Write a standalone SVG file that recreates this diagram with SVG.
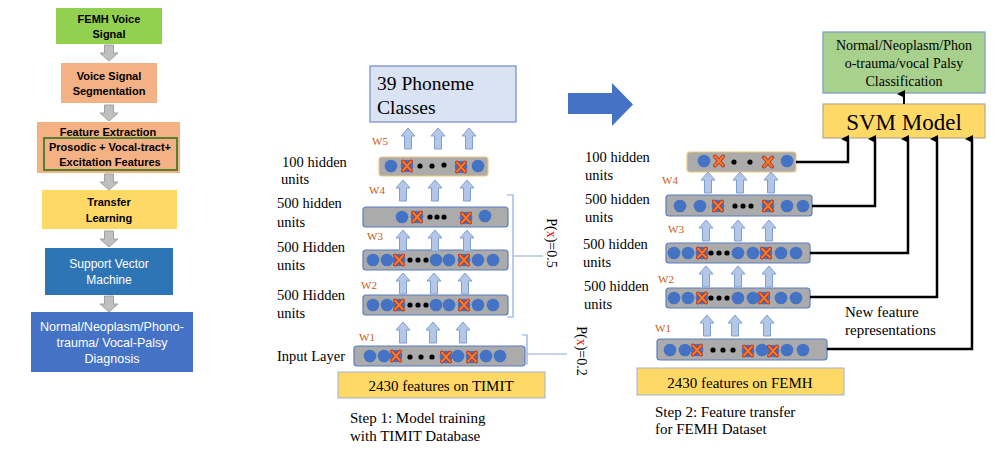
<svg xmlns="http://www.w3.org/2000/svg" xmlns:xlink="http://www.w3.org/1999/xlink" width="1000" height="458" viewBox="0 0 1000 458">
<style>
.fb{font-family:"Liberation Sans",Arial,sans-serif;font-weight:bold;font-size:11px;fill:#000;text-anchor:middle}
.fw{font-family:"Liberation Sans",Arial,sans-serif;font-size:12px;fill:#fff;text-anchor:middle}
.fd{font-family:"Liberation Sans",Arial,sans-serif;font-size:12.5px;fill:#fff;text-anchor:middle}
.sr{font-family:"Liberation Serif","Times New Roman",serif;font-size:14.5px;fill:#000}
.s15{font-family:"Liberation Serif","Times New Roman",serif;font-size:15px;fill:#000}
.s14{font-family:"Liberation Serif","Times New Roman",serif;font-size:14px;fill:#000;text-anchor:middle}
.big{font-family:"Liberation Serif","Times New Roman",serif;font-size:19.5px;fill:#000}
.svm{font-family:"Liberation Serif","Times New Roman",serif;font-size:23px;fill:#000;text-anchor:middle}
.w{font-family:"Liberation Serif","Times New Roman",serif;font-size:11px;fill:#C55A11}
.lay{fill:#ABABAB;stroke:#5B7EC0;stroke-width:1.2}
.layt{fill:#ABABAB;stroke:#F2C67E;stroke-width:1.2}
.conn{fill:none;stroke:#000;stroke-width:2.5}
.brk{fill:none;stroke:#8FAADC;stroke-width:1.2}
</style>
<defs>
<path id="ga" d="M-4.5,0 H4.5 V8 H9 L0,16 L-9,8 H-4.5 Z" fill="#BFBFBF" stroke="#A0A0A0" stroke-width="1"/>
<path id="ua" d="M-7,8 L0,0 L7,8 L3.5,8 L3.5,21 L-3.5,21 L-3.5,8 Z" fill="#B4C7E7" stroke="#7F9FD4" stroke-width="1"/>
<circle id="n" r="6.3" fill="#4472C4"/>
<circle id="d" r="2.6" fill="#000"/>
<g id="xo">
<path d="M-4,-4.5 L4,4.5 M4,-4.5 L-4,4.5" stroke="#C0301A" stroke-width="4" stroke-linecap="round"/>
<path d="M-4,-4.5 L4,4.5 M4,-4.5 L-4,4.5" stroke="#ED7D31" stroke-width="2" stroke-linecap="round"/>
</g>
<g id="x"><use xlink:href="#n"/><use xlink:href="#xo"/></g>
<marker id="ah" markerWidth="8" markerHeight="8" refX="4" refY="7" orient="auto-start-reverse" markerUnits="userSpaceOnUse" viewBox="0 0 8 8">
<path d="M0,8 L4,0 L8,8 Z" fill="#000"/>
</marker>
</defs>
<rect width="1000" height="458" fill="#fff"/>

<!-- Left flowchart -->
<g id="femh-signal"><rect x="56" y="8" width="106" height="36" fill="#92D050"/>
<text class="fb" x="109" y="23">FEMH Voice</text><text class="fb" x="109" y="38">Signal</text></g>
<g id="segmentation"><rect x="61" y="63" width="96" height="40" fill="#F4B183"/>
<text class="fb" x="109" y="80">Voice Signal</text><text class="fb" x="109" y="95">Segmentation</text></g>
<g id="feature-extraction"><rect x="37" y="122" width="143" height="51" fill="#F4B183"/>
<rect x="44" y="138" width="133" height="32" fill="none" stroke="#548235" stroke-width="2"/>
<text class="fb" x="108" y="136">Feature Extraction</text>
<text class="fb" x="110" y="151">Prosodic + Vocal-tract+</text>
<text class="fb" x="110" y="166">Excitation Features</text></g>
<g id="transfer-learning"><rect x="42" y="190" width="135" height="39" fill="#FFD966"/>
<text class="fb" x="109" y="206">Transfer</text><text class="fb" x="109" y="222">Learning</text></g>
<g id="svm-left"><rect x="45" y="248" width="128" height="47" fill="#2E75B6"/>
<text class="fw" x="109" y="268">Support Vector</text><text class="fw" x="109" y="284">Machine</text></g>
<g id="diagnosis"><rect x="31" y="312" width="162" height="60" fill="#4472C4"/>
<text class="fd" x="112" y="331">Normal/Neoplasm/Phono-</text>
<text class="fd" x="112" y="347">trauma/ Vocal-Palsy</text>
<text class="fd" x="112" y="363">Diagnosis</text></g>
<g id="left-arrows">
<use xlink:href="#ga" x="109" y="45"/>
<use xlink:href="#ga" x="109" y="105"/>
<use xlink:href="#ga" x="109" y="174"/>
<use xlink:href="#ga" x="109" y="231"/>
<use xlink:href="#ga" x="109" y="296"/>
</g>

<!-- Step 1 network -->
<g id="phoneme-classes"><rect x="370" y="66" width="146" height="56" fill="#DAE3F3" stroke="#6E8DC9" stroke-width="1.2"/>
<text class="big" x="377" y="90">39 Phoneme</text><text class="big" x="377" y="114">Classes</text></g>

<g id="s1-l5"><rect class="layt" x="379" y="157" width="109" height="19" rx="3"/>
<use xlink:href="#n" x="391" y="166"/><use xlink:href="#x" x="407" y="166"/>
<use xlink:href="#d" x="420" y="166"/><use xlink:href="#d" x="432" y="166"/><use xlink:href="#d" x="444" y="165"/>
<use xlink:href="#x" x="461" y="167"/><use xlink:href="#n" x="478" y="166"/></g>

<g id="s1-l4"><rect class="lay" x="363" y="207" width="145" height="20" rx="3"/>
<use xlink:href="#n" x="402" y="217"/><use xlink:href="#x" x="417" y="217"/>
<use xlink:href="#d" x="430" y="217"/><use xlink:href="#d" x="437" y="217"/><use xlink:href="#d" x="444" y="217"/>
<use xlink:href="#x" x="466" y="218"/><use xlink:href="#n" x="485" y="216"/></g>

<g id="s1-l3"><rect class="lay" x="363" y="250" width="145" height="20" rx="3"/>
<use xlink:href="#n" x="373" y="260"/><use xlink:href="#n" x="387" y="260"/><use xlink:href="#x" x="399" y="260"/>
<use xlink:href="#d" x="410" y="260"/><use xlink:href="#d" x="418" y="260"/><use xlink:href="#d" x="426" y="260"/>
<use xlink:href="#n" x="436" y="260"/><use xlink:href="#n" x="449" y="260"/><use xlink:href="#x" x="464" y="260"/>
<use xlink:href="#n" x="478" y="260"/><use xlink:href="#n" x="493" y="260"/></g>

<g id="s1-l2"><rect class="lay" x="363" y="295" width="145" height="20" rx="3"/>
<use xlink:href="#n" x="373" y="305"/><use xlink:href="#n" x="387" y="305"/><use xlink:href="#x" x="399" y="305"/>
<use xlink:href="#d" x="410" y="305"/><use xlink:href="#d" x="418" y="305"/><use xlink:href="#d" x="426" y="305"/>
<use xlink:href="#n" x="436" y="305"/><use xlink:href="#n" x="449" y="305"/><use xlink:href="#x" x="464" y="305"/>
<use xlink:href="#n" x="478" y="305"/><use xlink:href="#n" x="493" y="305"/></g>

<g id="s1-input"><rect class="lay" x="354" y="346" width="171" height="20" rx="3"/>
<use xlink:href="#n" x="370" y="356"/><use xlink:href="#n" x="384" y="356"/><use xlink:href="#x" x="396" y="356"/>
<use xlink:href="#d" x="410" y="357"/><use xlink:href="#d" x="421" y="357"/><use xlink:href="#d" x="432" y="357"/>
<use xlink:href="#x" x="446" y="357"/><use xlink:href="#n" x="458" y="356"/><use xlink:href="#x" x="472" y="357"/>
<use xlink:href="#n" x="486" y="356"/><use xlink:href="#n" x="500" y="356"/></g>

<g id="s1-timit"><rect x="338" y="372" width="207" height="26" fill="#FFD966" stroke="#9DB1D6" stroke-width="1"/>
<text class="s15" x="441" y="391" text-anchor="middle">2430 features on TIMIT</text></g>

<g id="s1-arrows">
<use xlink:href="#ua" x="408" y="128"/><use xlink:href="#ua" x="438" y="128"/><use xlink:href="#ua" x="469" y="128"/>
<use xlink:href="#ua" x="403" y="180"/><use xlink:href="#ua" x="435" y="180"/><use xlink:href="#ua" x="467" y="180"/>
<use xlink:href="#ua" x="403" y="230"/><use xlink:href="#ua" x="435" y="230"/><use xlink:href="#ua" x="467" y="230"/>
<use xlink:href="#ua" x="403" y="273"/><use xlink:href="#ua" x="434" y="273"/><use xlink:href="#ua" x="465" y="273"/>
<use xlink:href="#ua" x="403" y="322"/><use xlink:href="#ua" x="433" y="322"/><use xlink:href="#ua" x="463" y="322"/>
</g>

<g id="s1-labels">
<text class="sr" x="282" y="167">100 hidden</text><text class="sr" x="281" y="184">units</text>
<text class="sr" x="277" y="208">500 hidden</text><text class="sr" x="277" y="227">units</text>
<text class="sr" x="277" y="252">500 Hidden</text><text class="sr" x="277" y="270">units</text>
<text class="sr" x="277" y="300">500 Hidden</text><text class="sr" x="277" y="318">units</text>
<text class="sr" x="277" y="361">Input Layer</text>
<text class="w" x="372" y="145">W5</text><text class="w" x="369" y="194">W4</text>
<text class="w" x="367" y="240">W3</text><text class="w" x="361" y="289">W2</text><text class="w" x="359" y="341">W1</text>
<text class="s15" x="350" y="423">Step 1: Model training</text>
<text class="s15" x="350" y="441">with TIMIT Database</text>
</g>

<g id="dropout">
<path class="brk" d="M507,195 H513 V317 H507 M513,256 H543"/>
<path class="brk" d="M522,335 H527 V364 H522 M527,354 H567"/>
<text class="s14" transform="translate(547,243) rotate(90)">P(<tspan fill="#FF0000">x</tspan>)=0.5</text>
<text class="s14" transform="translate(577,351) rotate(90)">P(<tspan fill="#FF0000">x</tspan>)=0.2</text>
</g>

<g id="big-arrow"><path d="M568,93 H612 V83 L633,104.5 L612,126 V114 H568 Z" fill="#4472C4"/></g>

<!-- Step 2 network -->
<g id="classification"><rect x="823" y="32" width="162" height="61" fill="#A9D18E" stroke="#7A9CC6" stroke-width="1.2"/>
<text class="s14" x="904" y="50">Normal/Neoplasm/Phon</text>
<text class="s14" x="904" y="68">o-trauma/vocal Palsy</text>
<text class="s14" x="904" y="86">Classification</text></g>
<g id="svm-model"><rect x="823" y="104" width="162" height="34" fill="#FFD966" stroke="#B5A98C" stroke-width="1.2"/>
<text class="svm" x="904" y="130">SVM Model</text></g>

<g id="s2-l5"><rect class="layt" x="687" y="152" width="109" height="20" rx="3"/>
<use xlink:href="#n" x="704" y="161"/><use xlink:href="#xo" x="719" y="161"/>
<use xlink:href="#d" x="734" y="162"/><use xlink:href="#d" x="750" y="162"/>
<use xlink:href="#xo" x="768" y="162"/><use xlink:href="#n" x="787" y="161"/></g>

<g id="s2-l4"><rect class="lay" x="666" y="195" width="146" height="21" rx="3"/>
<use xlink:href="#n" x="680" y="206"/><use xlink:href="#n" x="700" y="206"/><use xlink:href="#x" x="718" y="206"/>
<use xlink:href="#d" x="735" y="206"/><use xlink:href="#d" x="743" y="206"/><use xlink:href="#d" x="751" y="206"/>
<use xlink:href="#x" x="768" y="206"/><use xlink:href="#n" x="787" y="206"/><use xlink:href="#n" x="803" y="206"/></g>

<g id="s2-l3"><rect class="lay" x="666" y="243" width="144" height="20" rx="3"/>
<use xlink:href="#n" x="674" y="253"/><use xlink:href="#n" x="688" y="253"/><use xlink:href="#x" x="702" y="253"/>
<use xlink:href="#d" x="711" y="253"/><use xlink:href="#d" x="719" y="253"/><use xlink:href="#d" x="727" y="253"/>
<use xlink:href="#n" x="738" y="253"/><use xlink:href="#n" x="753" y="253"/><use xlink:href="#x" x="766" y="253"/>
<use xlink:href="#n" x="781" y="253"/><use xlink:href="#n" x="796" y="253"/></g>

<g id="s2-l2"><rect class="lay" x="666" y="288" width="144" height="20" rx="3"/>
<use xlink:href="#n" x="674" y="298"/><use xlink:href="#n" x="688" y="298"/><use xlink:href="#x" x="702" y="298"/>
<use xlink:href="#d" x="711" y="298"/><use xlink:href="#d" x="719" y="298"/><use xlink:href="#d" x="727" y="298"/>
<use xlink:href="#n" x="738" y="298"/><use xlink:href="#n" x="753" y="298"/><use xlink:href="#x" x="764" y="298"/>
<use xlink:href="#n" x="781" y="298"/><use xlink:href="#n" x="796" y="298"/></g>

<g id="s2-input"><rect class="lay" x="657" y="339" width="170" height="21" rx="3"/>
<use xlink:href="#n" x="670" y="350"/><use xlink:href="#n" x="685" y="350"/><use xlink:href="#x" x="697" y="350"/>
<use xlink:href="#d" x="713" y="350"/><use xlink:href="#d" x="723" y="350"/><use xlink:href="#d" x="733" y="350"/>
<use xlink:href="#x" x="748" y="351"/><use xlink:href="#n" x="762" y="350"/><use xlink:href="#x" x="773" y="351"/>
<use xlink:href="#n" x="787" y="350"/><use xlink:href="#n" x="803" y="350"/></g>

<g id="s2-femh"><rect x="637" y="368" width="207" height="27" fill="#FFD966" stroke="#9DB1D6" stroke-width="1"/>
<text class="s15" x="740" y="388" text-anchor="middle">2430 features on FEMH</text></g>

<g id="s2-arrows">
<use xlink:href="#ua" x="708" y="172"/><use xlink:href="#ua" x="740" y="172"/><use xlink:href="#ua" x="771" y="172"/>
<use xlink:href="#ua" x="706" y="220"/><use xlink:href="#ua" x="738" y="220"/><use xlink:href="#ua" x="769" y="220"/>
<use xlink:href="#ua" x="706" y="266"/><use xlink:href="#ua" x="738" y="266"/><use xlink:href="#ua" x="769" y="266"/>
<use xlink:href="#ua" x="707" y="315"/><use xlink:href="#ua" x="735" y="315"/><use xlink:href="#ua" x="767" y="315"/>
</g>

<g id="s2-labels">
<text class="sr" x="585" y="162">100 hidden</text><text class="sr" x="585" y="180">units</text>
<text class="sr" x="585" y="204">500 hidden</text><text class="sr" x="585" y="222">units</text>
<text class="sr" x="583" y="249">500 hidden</text><text class="sr" x="583" y="267">units</text>
<text class="sr" x="584" y="291">500 hidden</text><text class="sr" x="584" y="309">units</text>
<text class="w" x="662" y="184">W4</text><text class="w" x="668" y="233">W3</text>
<text class="w" x="658" y="283">W2</text><text class="w" x="655" y="332">W1</text>
<text class="s15" x="845" y="317">New feature</text>
<text class="s15" x="845" y="335">representations</text>
<text class="s15" x="655" y="417">Step 2: Feature transfer</text>
<text class="s15" x="655" y="434">for FEMH Dataset</text>
</g>

<g id="connectors">
<path class="conn" d="M796,162 H848 V139" marker-end="url(#ah)"/>
<path class="conn" d="M812,206 H875 V139" marker-end="url(#ah)"/>
<path class="conn" d="M810,253 H908 V139" marker-end="url(#ah)"/>
<path class="conn" d="M810,297 H937 V139" marker-end="url(#ah)"/>
<path class="conn" d="M827,349 H972 V139" marker-end="url(#ah)"/>
<path class="conn" d="M904,104 V94" style="stroke-width:2" marker-end="url(#ah)"/>
</g>
</svg>
